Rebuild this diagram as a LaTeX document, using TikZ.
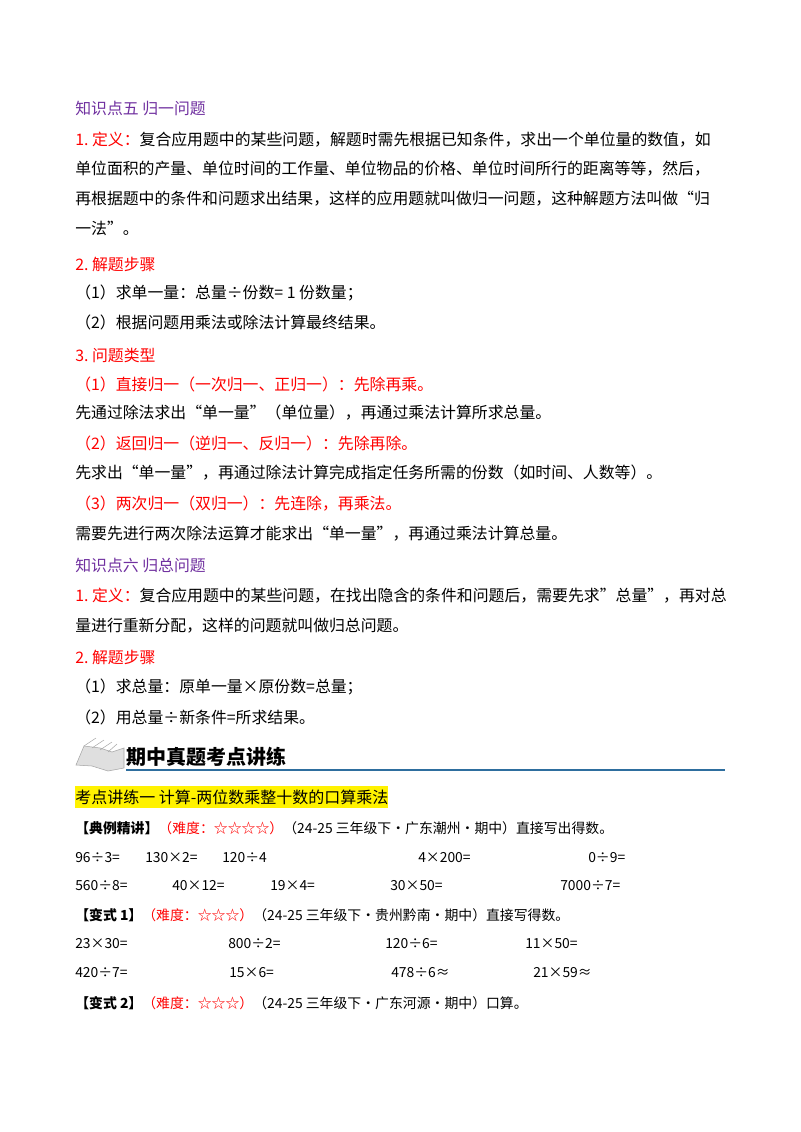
\documentclass[tikz,border=0pt]{standalone}
\usepackage{fontspec}
\setmainfont{Noto Sans CJK SC}
\usetikzlibrary{positioning}
\definecolor{kpurple}{HTML}{7030A0}
\definecolor{kred}{HTML}{FF0000}
\definecolor{kblue}{HTML}{2E6E9E}
\begin{document}
\begin{tikzpicture}[
    x=0.75pt, y=-0.75pt,
    % Styles
    txt/.style={ % one printed line
        anchor=west,
        inner sep=0pt,
        font=\fontsize{11.9}{14}\selectfont
    },
    small/.style={ % exercise lines
        txt,
        font=\fontsize{10.4}{12}\selectfont
    },
    purple/.style={txt, text=kpurple},
    red/.style={txt, text=kred}
]
    \useasboundingbox[fill=white] (0,0) rectangle (800,1132);

    % Knowledge point five
    \node[purple] (k5) at (75,108) {知识点五\ 归一问题};
    \node[txt] (a1) at (75,140) {\textcolor{kred}{1.\ 定义：}复合应用题中的某些问题，解题时需先根据已知条件，求出一个单位量的数值，如};
    \node[txt] (a2) at (75,169) {单位面积的产量、单位时间的工作量、单位物品的价格、单位时间所行的距离等等，然后，};
    \node[txt] (a3) at (75,199) {再根据题中的条件和问题求出结果，这样的应用题就叫做归一问题，这种解题方法叫做“归};
    \node[txt] (a4) at (75,228) {一法”。};
    \node[red] (a5) at (75,264) {2.\ 解题步骤};
    \node[txt] (a6) at (75,293) {（1）求单一量：总量÷份数=\ 1\ 份数量；};
    \node[txt] (a7) at (75,322) {（2）根据问题用乘法或除法计算最终结果。};
    \node[red] (a8) at (75,355) {3.\ 问题类型};
    \node[red] (a9) at (75,384) {（1）直接归一（一次归一、正归一）：先除再乘。};
    \node[txt] (a10) at (75,413) {先通过除法求出“单一量”（单位量），再通过乘法计算所求总量。};
    \node[red] (a11) at (75,443) {（2）返回归一（逆归一、反归一）：先除再除。};
    \node[txt] (a12) at (75,473) {先求出“单一量”，再通过除法计算完成指定任务所需的份数（如时间、人数等）。};
    \node[red] (a13) at (75,504) {（3）两次归一（双归一）：先连除，再乘法。};
    \node[txt] (a14) at (75,534) {需要先进行两次除法运算才能求出“单一量”，再通过乘法计算总量。};

    % Knowledge point six
    \node[purple] (k6) at (75,565) {知识点六\ 归总问题};
    \node[txt] (b1) at (75,596) {\textcolor{kred}{1.\ 定义：}复合应用题中的某些问题，在找出隐含的条件和问题后，需要先求"总量"，再对总};
    \node[txt] (b2) at (75,626) {量进行重新分配，这样的问题就叫做归总问题。};
    \node[red] (b3) at (75,657) {2.\ 解题步骤};
    \node[txt] (b4) at (75,687) {（1）求总量：原单一量×原份数=总量；};
    \node[txt] (b5) at (75,717) {（2）用总量÷新条件=所求结果。};

    % Section header with book
    \fill[gray!25, draw=gray!70] (76,765) -- (84,746) -- (100,748) -- (112,752) -- (124,748) -- (124,768) -- (108,771) -- (92,766) -- cycle;
    \draw[gray!70] (84,746) -- (96,738) (92,748) -- (104,740) (100,750) -- (112,742) (108,752) -- (117,744);
    \node[txt, font=\fontsize{15}{18}\selectfont\bfseries] (hd) at (126,757) {期中真题考点讲练};
    \draw[kblue, line width=1.2pt] (126,770) -- (725,770);

    % Practice one
    \node[txt, fill=yellow, inner ysep=3pt, font=\fontsize{12}{14}\selectfont] (p1) at (75,797) {考点讲练一\ 计算-两位数乘整十数的口算乘法};
    \node[small] (e0) at (75,828) {\textbf{【典例精讲】}\textcolor{kred}{（难度：☆☆☆☆）}（24-25 三年级下·广东潮州·期中）直接写出得数。};
    \node[small] (r11) at (75,858) {96÷3=};
    \node[small] (r12) at (145,858) {130×2=};
    \node[small] (r13) at (222,858) {120÷4};
    \node[small] (r14) at (418,858) {4×200=};
    \node[small] (r15) at (588,858) {0÷9=};
    \node[small] (r21) at (75,886) {560÷8=};
    \node[small] (r22) at (172,886) {40×12=};
    \node[small] (r23) at (270,886) {19×4=};
    \node[small] (r24) at (390,886) {30×50=};
    \node[small] (r25) at (560,886) {7000÷7=};
    \node[small] (e1) at (75,915) {\textbf{【变式 1】}\textcolor{kred}{（难度：☆☆☆）}（24-25 三年级下·贵州黔南·期中）直接写得数。};
    \node[small] (s11) at (75,944) {23×30=};
    \node[small] (s12) at (228,944) {800÷2=};
    \node[small] (s13) at (385,944) {120÷6=};
    \node[small] (s14) at (525,944) {11×50=};
    \node[small] (s21) at (75,973) {420÷7=};
    \node[small] (s22) at (229,973) {15×6=};
    \node[small] (s23) at (391,973) {478÷6≈};
    \node[small] (s24) at (533,973) {21×59≈};
    \node[small] (e2) at (75,1003) {\textbf{【变式 2】}\textcolor{kred}{（难度：☆☆☆）}（24-25 三年级下·广东河源·期中）口算。};
\end{tikzpicture}
\end{document}
